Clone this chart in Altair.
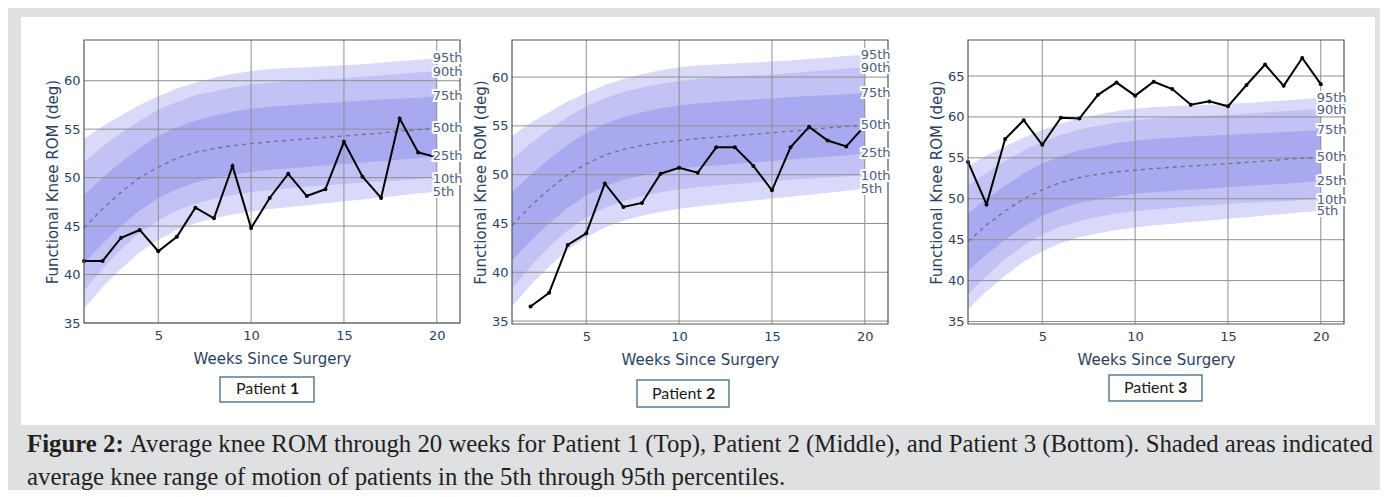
import altair as alt
import pandas as pd

# ---------------- data ----------------
weeks = list(range(1, 21))
p95 = [54.0, 55.3, 56.4, 57.5, 58.4, 59.2, 59.8, 60.3, 60.7, 61.0, 61.2, 61.3, 61.4, 61.5, 61.6, 61.7, 61.85, 62.0, 62.15, 62.3]
p90 = [51.6, 53.2, 54.6, 55.9, 57.0, 57.8, 58.5, 58.9, 59.3, 59.6, 59.8, 59.95, 60.05, 60.15, 60.25, 60.4, 60.55, 60.7, 60.85, 61.0]
p75 = [48.2, 50.0, 51.6, 53.1, 54.3, 55.2, 55.9, 56.4, 56.8, 57.1, 57.3, 57.45, 57.6, 57.7, 57.8, 57.95, 58.05, 58.15, 58.25, 58.4]
p50 = [44.8, 46.8, 48.5, 50.0, 51.1, 52.0, 52.6, 53.0, 53.3, 53.5, 53.7, 53.85, 54.0, 54.15, 54.3, 54.45, 54.6, 54.8, 54.95, 55.1]
p25 = [41.2, 43.2, 45.0, 46.6, 47.9, 48.8, 49.5, 49.9, 50.3, 50.6, 50.8, 50.95, 51.1, 51.25, 51.4, 51.55, 51.7, 51.85, 52.0, 52.2]
p10 = [38.3, 40.6, 42.6, 44.3, 45.6, 46.6, 47.3, 47.8, 48.2, 48.5, 48.7, 48.9, 49.05, 49.2, 49.35, 49.5, 49.6, 49.7, 49.85, 50.0]
p5 = [36.5, 38.7, 40.6, 42.3, 43.6, 44.6, 45.3, 45.8, 46.2, 46.5, 46.75, 46.95, 47.15, 47.35, 47.55, 47.75, 47.95, 48.15, 48.35, 48.55]

pct_names = ["95th", "90th", "75th", "50th", "25th", "10th", "5th"]
pct_label_y = [62.3, 60.9, 58.4, 55.1, 52.2, 49.9, 48.5]
pct_label_x = 19.78

p1_weeks = list(range(1, 21))
p1_rom = [41.4, 41.4, 43.8, 44.6, 42.4, 43.9, 46.9, 45.8, 51.2, 44.8, 47.9, 50.4, 48.1, 48.8, 53.7, 50.1, 47.9, 56.1, 52.6, 52.1]
p2_weeks = list(range(2, 21))
p2_rom = [36.5, 37.9, 42.8, 44.0, 49.1, 46.7, 47.1, 50.1, 50.7, 50.2, 52.8, 52.8, 50.9, 48.4, 52.8, 54.9, 53.5, 52.9, 55.0]
p3_weeks = list(range(1, 21))
p3_rom = [54.5, 49.3, 57.3, 59.6, 56.6, 59.9, 59.8, 62.7, 64.2, 62.6, 64.3, 63.4, 61.5, 61.9, 61.3, 63.9, 66.4, 63.8, 67.2, 64.0]

x_ticks = [5, 10, 15, 20]
y_ticks_12 = [35, 40, 45, 50, 55, 60]
y_ticks_3 = [35, 40, 45, 50, 55, 60, 65]

x_title = "Weeks Since Surgery"
y_title = "Functional Knee ROM (deg)"
caption_bold = "Figure 2:"
caption_line1 = "Average knee ROM through 20 weeks for Patient 1 (Top), Patient 2 (Middle), and Patient 3 (Bottom). Shaded areas indicated"
caption_line2 = "average knee range of motion of patients in the 5th through 95th percentiles."

# ---------------- style ----------------
BG = "#dfe0e2"
FONT = "DejaVu Sans"
AXC = "#2a3f5f"
LBLC = "#4d5d7d"
C_OUT = "#d9d9f9"
C_MID = "#c2c2f4"
C_IN = "#a9a9f0"
GRID = "#8f8f8f"
W = 376

band_df = pd.DataFrame({"week": weeks, "p5": p5, "p10": p10, "p25": p25, "p50": p50,
                        "p75": p75, "p90": p90, "p95": p95})
lab_df = pd.DataFrame({"lab": pct_names, "ly": pct_label_y, "lx": [pct_label_x] * len(pct_names)})
gx_df = pd.DataFrame({"gx": x_ticks})
one = pd.DataFrame({"d": [0]})


def panel(rom_w, rom, ydom, yticks, H, rects, box, num):
    xs = alt.Scale(domain=[1, 21.25], nice=False, zero=False)
    ys = alt.Scale(domain=ydom, nice=False, zero=False)
    xax = alt.Axis(values=x_ticks, ticks=False, domain=False, grid=False, tickSize=0,
                   labelFont=FONT, labelFontSize=13, labelColor=AXC, labelPadding=6,
                   title=x_title, titleFont=FONT, titleFontSize=15, titleFontWeight="normal",
                   titleColor=AXC, titleX=W / 2, titleY=35, titleBaseline="middle", zindex=1)
    yax = alt.Axis(values=yticks, ticks=False, domain=False, grid=False, tickSize=0,
                   labelFont=FONT, labelFontSize=13, labelColor=AXC, labelPadding=4,
                   title=y_title, titleFont=FONT, titleFontSize=15, titleFontWeight="normal",
                   titleColor=AXC, titleX=-32, titleY=H / 2, titleBaseline="middle",
                   titleAngle=-90, zindex=1)

    def X(f):
        return alt.X(f, type="quantitative", scale=xs, axis=xax)

    def Y(f):
        return alt.Y(f, type="quantitative", scale=ys, axis=yax)

    gx0, gx1, gy0, gy1, wx0, wx1, wy0 = rects
    gray = alt.Chart(one).mark_rect(color=BG).encode(
        x=alt.value(gx0), x2=alt.value(gx1), y=alt.value(gy0), y2=alt.value(gy1))
    white = alt.Chart(one).mark_rect(color="white").encode(
        x=alt.value(wx0), x2=alt.value(wx1), y=alt.value(wy0), y2=alt.value(gy1))

    base = alt.Chart(band_df)
    outer = base.mark_area(color=C_OUT).encode(x=X("week"), y=Y("p5"), y2="p95")
    mid = base.mark_area(color=C_MID).encode(x=X("week"), y=Y("p10"), y2="p90")
    inner = base.mark_area(color=C_IN).encode(x=X("week"), y=Y("p25"), y2="p75")
    gridx = alt.Chart(gx_df).mark_rule(color=GRID, strokeWidth=1).encode(x=X("gx"))
    gridy = alt.Chart(pd.DataFrame({"gy": yticks})).mark_rule(color=GRID, strokeWidth=1).encode(y=Y("gy"))
    median = base.mark_line(color="#6f6f8a", strokeWidth=1.3, strokeDash=[4, 4]).encode(
        x=X("week"), y=Y("p50"))
    pdf = pd.DataFrame({"w": rom_w, "rom": rom})
    line = alt.Chart(pdf).mark_line(color="black", strokeWidth=2,
                                    point=alt.OverlayMarkDef(filled=True, color="black", size=16)).encode(
        x=X("w"), y=Y("rom"))
    frame = alt.Chart(one).mark_rect(fillOpacity=0, stroke="#555555", strokeWidth=1.2).encode(
        x=alt.value(0), x2=alt.value(W), y=alt.value(0), y2=alt.value(H))
    halo = alt.Chart(lab_df).mark_text(align="left", baseline="middle", font=FONT, fontSize=13,
                                       color="white", stroke="white", strokeWidth=4).encode(
        x=X("lx"), y=Y("ly"), text="lab:N")
    labels = alt.Chart(lab_df).mark_text(align="left", baseline="middle", font=FONT, fontSize=13,
                                         color=LBLC).encode(
        x=X("lx"), y=Y("ly"), text="lab:N")

    bx0, bx1, by0, by1, tx, ty = box
    brect = alt.Chart(one).mark_rect(color="white", stroke="#5b7b97", strokeWidth=1.5).encode(
        x=alt.value(bx0), x2=alt.value(bx1), y=alt.value(by0), y2=alt.value(by1))
    t1 = alt.Chart(one).mark_text(text="Patient", font="Lato", fontSize=16, color="#1a1a1a",
                                  align="right", baseline="middle").encode(
        x=alt.value(tx), y=alt.value(ty))
    t2 = alt.Chart(one).mark_text(text=num, font="Lato", fontSize=16, fontWeight="bold",
                                  color="#1a1a1a", align="left", baseline="middle").encode(
        x=alt.value(tx + 4), y=alt.value(ty))

    return alt.layer(gray, white, outer, mid, inner, gridx, gridy, median, line, frame,
                     halo, labels, brect, t1, t2).properties(width=W, height=H)


# plot origins (page px): P1 (84,40), P2 (512,40), P3 (968,40)
p1 = panel(p1_weeks, p1_rom, [35, 64.2], y_ticks_12, 283,
           (-76, 382, -32, 385, -63, 382, -23), (136, 230, 337, 362, 202, 349), "1")
p2 = panel(p2_weeks, p2_rom, [34.7, 63.8], y_ticks_12, 284,
           (-46, 393, -32, 385, -46, 393, -23), (125, 217, 340, 367, 190, 354), "2")
p3 = panel(p3_weeks, p3_rom, [34.7, 69.4], y_ticks_3, 284,
           (-63, 412, -32, 385, -63, 407, -23), (141, 234, 335, 361, 206, 348), "3")

# caption block (origin aligned with panel 1 plot origin, page x 84, page y 425)
CW = 1296
CH = 64
CFS = 24.8
cap = alt.layer(
    alt.Chart(one).mark_rect(color=BG).encode(x=alt.value(-76), x2=alt.value(CW), y=alt.value(0), y2=alt.value(CH)),
    alt.Chart(one).mark_text(text=caption_bold, font="Liberation Serif", fontSize=CFS, fontWeight="bold",
                             color="#231f20", align="left", baseline="alphabetic").encode(
        x=alt.value(-57), y=alt.value(27)),
    alt.Chart(one).mark_text(text=caption_line1, font="Liberation Serif", fontSize=CFS,
                             color="#231f20", align="left", baseline="alphabetic").encode(
        x=alt.value(46), y=alt.value(27)),
    alt.Chart(one).mark_text(text=caption_line2, font="Liberation Serif", fontSize=CFS,
                             color="#231f20", align="left", baseline="alphabetic").encode(
        x=alt.value(-57), y=alt.value(60)),
).properties(width=CW, height=CH)

chart = alt.vconcat(
    alt.hconcat(p1, p2, p3, spacing=0),
    cap,
    spacing=0,
).properties(padding=0, background=BG).configure_view(stroke=None)

chart.save("out.html", embed_options={"renderer": "svg", "actions": False})
